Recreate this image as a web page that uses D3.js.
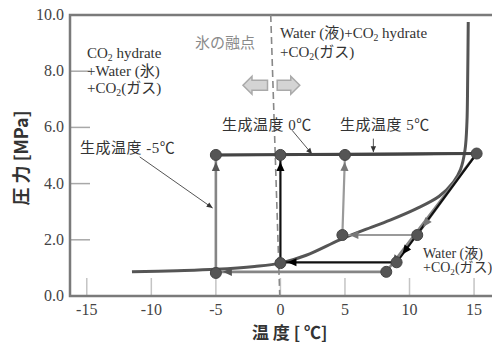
<!DOCTYPE html>
<html>
<head>
<meta charset="utf-8">
<script src="https://cdn.jsdelivr.net/npm/d3@7"></script>
<style>
  html, body { margin: 0; padding: 0; background: #fff; }
  svg { display: block; }
</style>
</head>
<body>
<svg id="chart" width="492" height="345"></svg>
<script>
// ---- data ----
const xTicks = [-15, -10, -5, 0, 5, 10, 15];
const yTicks = [0, 2, 4, 6, 8, 10];

// three-phase hydrate equilibrium curve [temperature °C, pressure MPa]
const equilibriumCurve = [
  [-11.5, 0.86], [-8, 0.9], [-5, 0.95], [-2, 1.05], [0, 1.17], [2, 1.45],
  [4.6, 2.0], [6.5, 2.35], [8.5, 2.7], [10.5, 3.1], [12.3, 3.55],
  [13.4, 4.05], [13.95, 4.5], [14.3, 5.2], [14.45, 6.2], [14.5, 7.5], [14.55, 9.75]
];

// ice melting point (dashed)
const meltLine = [[-0.75, 10], [-0.05, 0]];

// formation runs: start (low P) -> pressurised -> heated -> decomposed -> cooled
const cycleMinus5 = [[-5, 0.82], [-5, 5.02], [15.2, 5.07], [8.2, 0.86], [-5, 0.86]];
const cycleZero   = [[0, 1.17], [0, 5.02], [15.2, 5.07], [9.0, 1.2], [0, 1.2]];
const cycleFive   = [[4.8, 2.17], [5, 5.02], [15.2, 5.07], [10.6, 2.17], [4.8, 2.17]];

// measured state points
const statePoints = [
  [-5, 5.02], [0, 5.02], [5, 5.02], [15.2, 5.07],
  [-5, 0.82], [0, 1.17], [4.8, 2.17], [10.6, 2.17], [8.2, 0.86], [9.0, 1.2]
];

// ---- layout ----
const SERIF = "'Liberation Serif', 'Noto Sans CJK JP', serif";
const GOTHIC = "'Noto Sans CJK JP', sans-serif";
const svg = d3.select("#chart");
const x = d3.scaleLinear().domain([-16.3, 16.7]).range([70, 496]);
const y = d3.scaleLinear().domain([0, 10]).range([296, 15]);

const line = d3.line().x(d => x(d[0])).y(d => y(d[1]));
const curve = d3.line().x(d => x(d[0])).y(d => y(d[1])).curve(d3.curveCatmullRom.alpha(0.5));

// ---- short inner ticks ----
svg.append("g").selectAll("line").data(xTicks).join("line")
  .attr("x1", d => x(d)).attr("x2", d => x(d))
  .attr("y1", y(0)).attr("y2", y(0) - 18)
  .attr("stroke", "#c4c4c4").attr("stroke-width", 1.5);
svg.append("g").selectAll("line").data(yTicks).join("line")
  .attr("x1", x.range()[0]).attr("x2", x.range()[0] + 20)
  .attr("y1", d => y(d)).attr("y2", d => y(d))
  .attr("stroke", "#a8a8a8").attr("stroke-width", 1.5);

// ---- frame ----
svg.append("path")
  .attr("d", `M${x.range()[1]},${y(10)}H${x.range()[0]}V${y(0)}H${x.range()[1]}`)
  .attr("stroke", "#7a7a7a").attr("stroke-width", 2.5).attr("fill", "none");

// ---- tick labels ----
svg.append("g").selectAll("text").data(xTicks).join("text")
  .attr("x", d => x(d)).attr("y", y(0) + 19)
  .attr("text-anchor", "middle").attr("font-family", SERIF)
  .attr("font-size", 16).attr("fill", "#444")
  .text(d => d);
svg.append("g").selectAll("text").data(yTicks).join("text")
  .attr("x", x.range()[0] - 6).attr("y", d => y(d) + 5)
  .attr("text-anchor", "end").attr("font-family", SERIF)
  .attr("font-size", 16).attr("fill", "#444")
  .text(d => d.toFixed(1));

// ---- axis titles ----
svg.append("text")
  .attr("x", 252).attr("y", 339)
  .attr("font-family", GOTHIC).attr("font-weight", 700)
  .attr("font-size", 17).attr("fill", "#333")
  .text("温 度 [ ℃]");
svg.append("text")
  .attr("transform", "translate(28,158) rotate(-90)")
  .attr("text-anchor", "middle")
  .attr("font-family", GOTHIC).attr("font-weight", 700)
  .attr("font-size", 18).attr("fill", "#333")
  .text("圧 力 [MPa]");

// ---- melting point ----
svg.append("path").attr("d", line(meltLine))
  .attr("stroke", "#888").attr("stroke-width", 1.6).attr("stroke-dasharray", "7,4").attr("fill", "none");

// block arrows either side of the melting point
function blockArrow(tail, tip) {
  const x0 = x(tail[0]), x1 = x(tip[0]), yc = y(tail[1]);
  const dir = Math.sign(x1 - x0);
  const head = 9, bodyH = 5, headH = 9;
  const xb = x1 - dir * head;
  const pts = [[x0, yc - bodyH], [xb, yc - bodyH], [xb, yc - headH], [x1, yc],
               [xb, yc + headH], [xb, yc + bodyH], [x0, yc + bodyH]];
  svg.append("polygon").attr("points", pts.map(p => p.join(",")).join(" "))
    .attr("fill", "#d4d4d4").attr("stroke", "#a9a9a9").attr("stroke-width", 1.5);
}
blockArrow([-1.0, 7.5], [-2.9, 7.5]);
blockArrow([-0.25, 7.5], [1.5, 7.5]);

// ---- equilibrium curve ----
svg.append("path").attr("d", curve(equilibriumCurve))
  .attr("stroke", "#555").attr("stroke-width", 3).attr("fill", "none");

// ---- arrowheads ----
function arrowHead(p1, p2, back, color, size) {
  // triangle pointing from p1 toward p2, tip placed `back` px before p2
  const ax = x(p1[0]), ay = y(p1[1]), bx = x(p2[0]), by = y(p2[1]);
  const L = Math.hypot(bx - ax, by - ay), ux = (bx - ax) / L, uy = (by - ay) / L;
  const tx = bx - ux * back, ty = by - uy * back;
  const s = size || 8, w = s * 0.45;
  const cx = tx - ux * s, cy = ty - uy * s;
  const pts = [[tx, ty], [cx - uy * w, cy + ux * w], [cx + uy * w, cy - ux * w]];
  svg.append("polygon").attr("points", pts.map(p => p.join(",")).join(" ")).attr("fill", color);
}

function drawCycle(pts, color, width) {
  svg.append("path").attr("d", line(pts))
    .attr("stroke", color).attr("stroke-width", width).attr("fill", "none")
    .attr("stroke-linejoin", "round");
}

drawCycle(cycleFive, "#9a9a9a", 2.2);
drawCycle(cycleMinus5, "#858585", 2.6);
drawCycle(cycleZero, "#111", 2.2);

// top isobar shared by all three runs
svg.append("path").attr("d", line([[-5, 5.02], [15.2, 5.07]]))
  .attr("stroke", "#444").attr("stroke-width", 3).attr("fill", "none");

// direction arrows on each run
[[cycleMinus5, "#555"], [cycleZero, "#000"], [cycleFive, "#777"]].forEach(([c, col]) => {
  arrowHead(c[0], c[1], 7, col, 9);   // pressurising
  arrowHead(c[2], c[3], 10, col, 9);  // decomposition
  arrowHead(c[3], c[4], 7, col, 9);   // cooling back
});

// ---- state points ----
svg.append("g").selectAll("circle").data(statePoints).join("circle")
  .attr("cx", d => x(d[0])).attr("cy", d => y(d[1])).attr("r", 5.5)
  .attr("fill", "#555").attr("stroke", "#444").attr("stroke-width", 1);

// ---- annotations ----
const ann = svg.append("g");

function multiLine(lines, x0, y0, dy, size, color) {
  lines.forEach((parts, i) => {
    const t = ann.append("text").attr("x", x0).attr("y", y0 + i * dy)
      .attr("font-family", SERIF).attr("font-size", size).attr("fill", color || "#333");
    parts.forEach(p => {
      const s = t.append("tspan").text(p.t);
      if (p.sub) s.attr("font-size", size * 0.65).attr("dy", 3);
      if (p.up) s.attr("dy", -3);
    });
  });
}

multiLine([
  [{t: "CO"}, {t: "2", sub: true}, {t: " hydrate", up: true}],
  [{t: "+Water (氷)"}],
  [{t: "+CO"}, {t: "2", sub: true}, {t: "(ガス)", up: true}]
], 87, 58, 17.5, 15);

multiLine([
  [{t: "Water (液)+CO"}, {t: "2", sub: true}, {t: " hydrate", up: true}],
  [{t: "+CO"}, {t: "2", sub: true}, {t: "(ガス)", up: true}]
], 280, 38, 19, 15);

multiLine([
  [{t: "Water (液)"}],
  [{t: "+CO"}, {t: "2", sub: true}, {t: "(ガス)", up: true}]
], 423, 258, 14, 14);

ann.append("text").attr("x", 195).attr("y", 48)
  .attr("font-family", GOTHIC)
  .attr("font-size", 15).attr("fill", "#8a8a8a").text("氷の融点");

const labels = [
  {t: "生成温度 0℃", x: 222, y: 130},
  {t: "生成温度 5℃", x: 340, y: 130},
  {t: "生成温度 -5℃", x: 80, y: 153}
];
ann.selectAll("text.lab").data(labels).join("text").attr("class", "lab")
  .attr("x", d => d.x).attr("y", d => d.y)
  .attr("font-family", SERIF)
  .attr("font-size", 15).attr("letter-spacing", 0.5).attr("fill", "#333")
  .text(d => d.t);

// leader lines from labels to the runs
function leader(a, b) {
  svg.append("line").attr("x1", x(a[0])).attr("y1", y(a[1])).attr("x2", x(b[0])).attr("y2", y(b[1]))
    .attr("stroke", "#555").attr("stroke-width", 1);
  arrowHead(a, b, 0, "#333", 6);
}
leader([-10.9, 4.95], [-5.25, 3.13]);
leader([0.9, 5.9], [2.45, 5.05]);
leader([7.2, 5.6], [7.2, 5.12]);
</script>
</body>
</html>
